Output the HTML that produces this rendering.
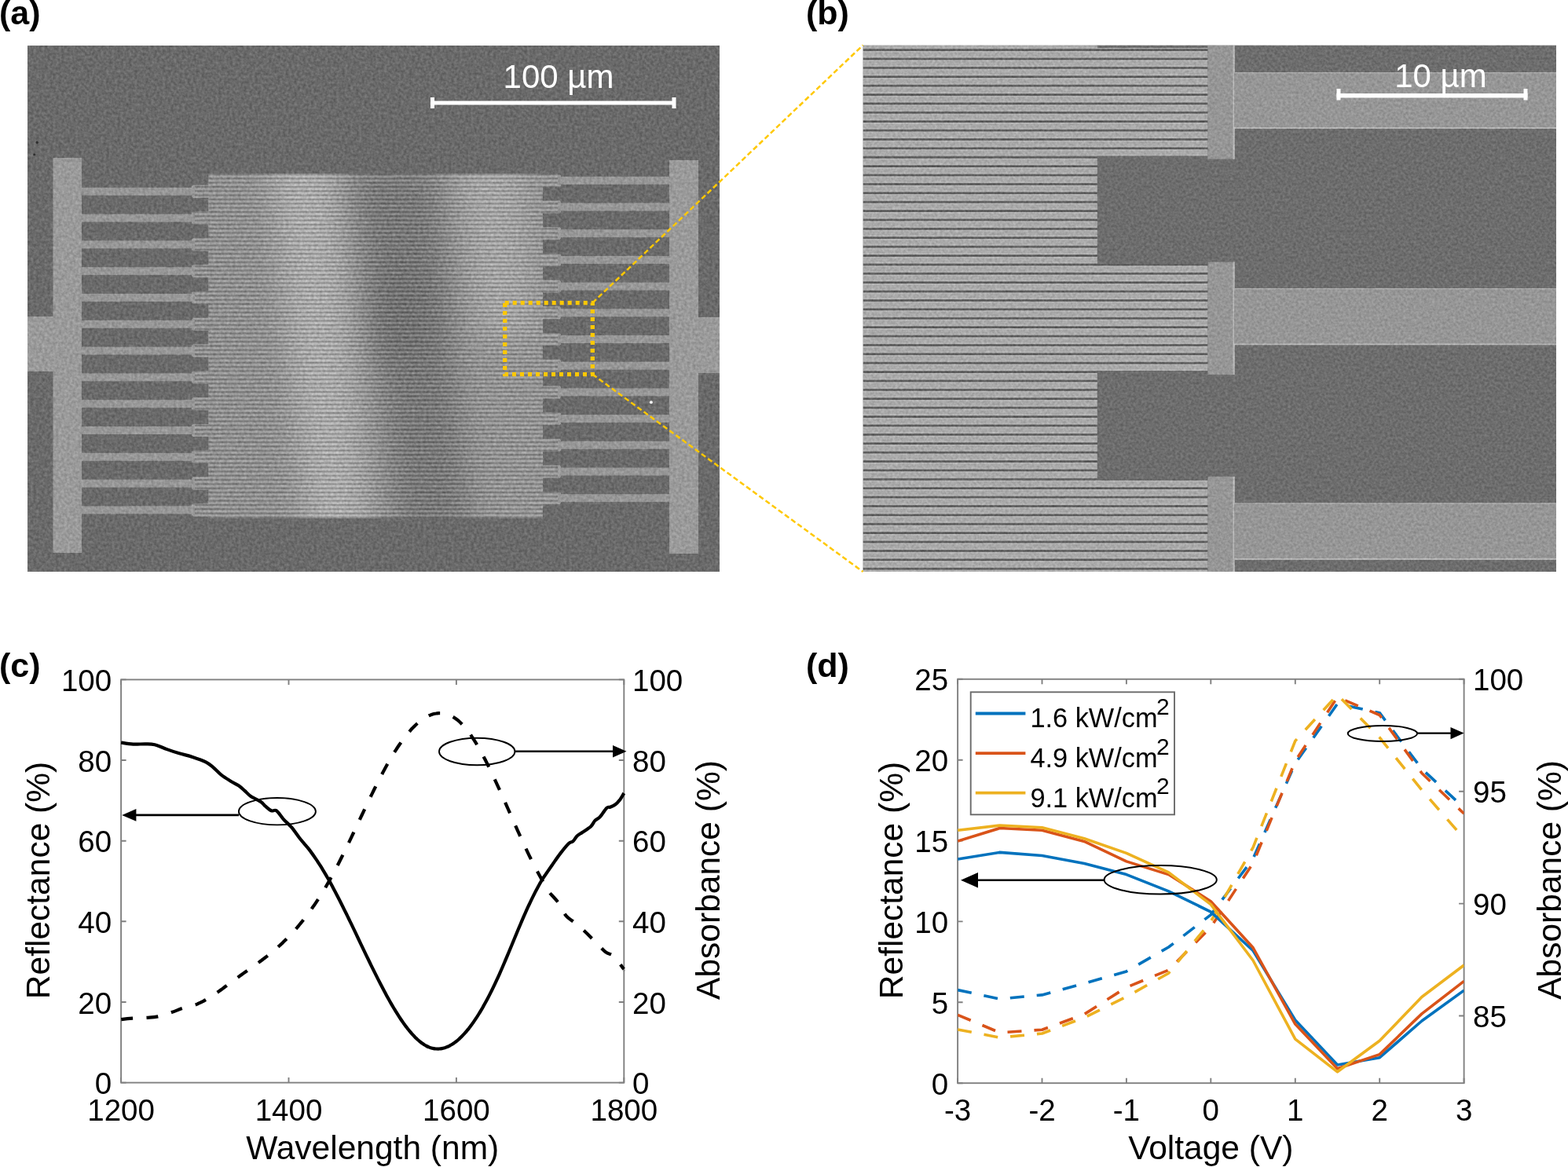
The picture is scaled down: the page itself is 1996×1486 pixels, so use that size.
<!DOCTYPE html>
<html><head><meta charset="utf-8"><title>Figure</title>
<style>html,body{margin:0;padding:0;background:#fff;}body{width:1996px;height:1486px;overflow:hidden;position:relative;}svg{position:absolute;left:0;top:0;display:block;}</style>
</head><body>
<svg width="1996" height="1486" viewBox="0 0 1996 1486">
<rect width="1996" height="1486" fill="#fff"/>
<defs>
<linearGradient id="gradA" gradientUnits="userSpaceOnUse" x1="230" y1="440" x2="730" y2="350"><stop offset="0" stop-color="rgb(150,150,150)"/><stop offset="0.15" stop-color="rgb(152,152,152)"/><stop offset="0.25" stop-color="rgb(160,160,160)"/><stop offset="0.35" stop-color="rgb(174,174,174)"/><stop offset="0.45" stop-color="rgb(160,160,160)"/><stop offset="0.58" stop-color="rgb(132,132,132)"/><stop offset="0.68" stop-color="rgb(146,146,146)"/><stop offset="0.79" stop-color="rgb(168,168,168)"/><stop offset="0.9" stop-color="rgb(158,158,158)"/><stop offset="1" stop-color="rgb(154,154,154)"/></linearGradient>
<pattern id="lineA" patternUnits="userSpaceOnUse" x="0" y="221" width="20" height="5.33"><rect x="0" y="0" width="20" height="2" fill="#000" opacity="0.19"/><rect x="0" y="2.8" width="20" height="1.5" fill="#fff" opacity="0.13"/></pattern>
<pattern id="lineB" patternUnits="userSpaceOnUse" x="0" y="62.05" width="40" height="11.39"><rect x="0" y="0" width="40" height="11.39" fill="#a9a9a9"/><rect x="0" y="0.3" width="40" height="3" fill="#585858"/><rect x="0" y="3.1" width="40" height="1.1" fill="#c2c2c2"/><rect x="0" y="10.1" width="40" height="1" fill="#bdbdbd"/></pattern>
<filter id="blurBig" x="-20%" y="-20%" width="140%" height="140%" color-interpolation-filters="sRGB"><feGaussianBlur stdDeviation="18"/></filter><filter id="blurBig2" x="-100%" y="-100%" width="300%" height="300%" color-interpolation-filters="sRGB"><feGaussianBlur stdDeviation="20"/></filter>
<filter id="noise" x="0" y="0" width="100%" height="100%" color-interpolation-filters="sRGB"><feTurbulence type="fractalNoise" baseFrequency="0.28" numOctaves="2" seed="3" result="n"/><feColorMatrix in="n" type="matrix" values="1 0 0 0 0  1 0 0 0 0  1 0 0 0 0  0 0 0 0 1" result="g"/><feComposite in="SourceGraphic" in2="g" operator="arithmetic" k1="0" k2="1" k3="0.22" k4="-0.11"/></filter>
<filter id="noiseB" x="0" y="0" width="100%" height="100%" color-interpolation-filters="sRGB"><feTurbulence type="fractalNoise" baseFrequency="0.3" numOctaves="2" seed="7" result="n"/><feColorMatrix in="n" type="matrix" values="1 0 0 0 0  1 0 0 0 0  1 0 0 0 0  0 0 0 0 1" result="g"/><feComposite in="SourceGraphic" in2="g" operator="arithmetic" k1="0" k2="1" k3="0.2" k4="-0.1"/></filter>
</defs>
<clipPath id="clipA"><rect x="35" y="58" width="881" height="670"/></clipPath>
<g clip-path="url(#clipA)"><g filter="url(#noise)">
<rect x="35" y="58" width="881" height="670" fill="#6a6a6a"/>
<clipPath id="gratA"><rect x="265.5" y="221" width="425.5" height="439"/><rect x="245.5" y="235.8" width="21" height="16"/><rect x="245.5" y="269.6" width="21" height="16"/><rect x="245.5" y="303.4" width="21" height="16"/><rect x="245.5" y="337.2" width="21" height="16"/><rect x="245.5" y="371" width="21" height="16"/><rect x="245.5" y="404.8" width="21" height="16"/><rect x="245.5" y="438.6" width="21" height="16"/><rect x="245.5" y="472.4" width="21" height="16"/><rect x="245.5" y="506.2" width="21" height="16"/><rect x="245.5" y="540" width="21" height="16"/><rect x="245.5" y="573.8" width="21" height="16"/><rect x="245.5" y="607.6" width="21" height="16"/><rect x="245.5" y="641.4" width="21" height="16"/><rect x="690" y="221.8" width="23" height="16"/><rect x="690" y="255.5" width="23" height="16"/><rect x="690" y="289.2" width="23" height="16"/><rect x="690" y="322.9" width="23" height="16"/><rect x="690" y="356.6" width="23" height="16"/><rect x="690" y="390.3" width="23" height="16"/><rect x="690" y="424" width="23" height="16"/><rect x="690" y="457.7" width="23" height="16"/><rect x="690" y="491.4" width="23" height="16"/><rect x="690" y="525.1" width="23" height="16"/><rect x="690" y="558.8" width="23" height="16"/><rect x="690" y="592.5" width="23" height="16"/><rect x="690" y="626.2" width="23" height="16"/></clipPath>
<g clip-path="url(#gratA)">
<rect x="240" y="215" width="480" height="450" fill="rgb(153,153,153)"/>
<g filter="url(#blurBig)">
<polygon points="238,200 330,200 395,680 238,680" fill="rgb(149,149,149)"/>
<polygon points="345,200 425,200 470,680 390,680" fill="rgb(178,178,178)"/>
<polygon points="445,215 555,215 575,430 600,680 505,680 480,430" fill="rgb(124,124,124)"/>
<polygon points="582,200 662,200 682,430 612,430" fill="rgb(172,172,172)"/>
</g>
<g filter="url(#blurBig2)">
<ellipse cx="512" cy="400" rx="30" ry="70" fill="rgb(116,116,116)"/>
</g>
<rect x="240" y="215" width="480" height="450" fill="url(#lineA)"/>
</g>
<rect x="67.5" y="201" width="36.5" height="503" fill="#9a9a9a"/>
<rect x="35" y="403" width="34" height="70" fill="#9a9a9a"/>
<rect x="103" y="238.8" width="143" height="10" fill="#979797"/>
<rect x="244" y="236.8" width="4" height="14" fill="#979797"/>
<rect x="103" y="272.6" width="143" height="10" fill="#979797"/>
<rect x="244" y="270.6" width="4" height="14" fill="#979797"/>
<rect x="103" y="306.4" width="143" height="10" fill="#979797"/>
<rect x="244" y="304.4" width="4" height="14" fill="#979797"/>
<rect x="103" y="340.2" width="143" height="10" fill="#979797"/>
<rect x="244" y="338.2" width="4" height="14" fill="#979797"/>
<rect x="103" y="374" width="143" height="10" fill="#979797"/>
<rect x="244" y="372" width="4" height="14" fill="#979797"/>
<rect x="103" y="407.8" width="143" height="10" fill="#979797"/>
<rect x="244" y="405.8" width="4" height="14" fill="#979797"/>
<rect x="103" y="441.6" width="143" height="10" fill="#979797"/>
<rect x="244" y="439.6" width="4" height="14" fill="#979797"/>
<rect x="103" y="475.4" width="143" height="10" fill="#979797"/>
<rect x="244" y="473.4" width="4" height="14" fill="#979797"/>
<rect x="103" y="509.2" width="143" height="10" fill="#979797"/>
<rect x="244" y="507.2" width="4" height="14" fill="#979797"/>
<rect x="103" y="543" width="143" height="10" fill="#979797"/>
<rect x="244" y="541" width="4" height="14" fill="#979797"/>
<rect x="103" y="576.8" width="143" height="10" fill="#979797"/>
<rect x="244" y="574.8" width="4" height="14" fill="#979797"/>
<rect x="103" y="610.6" width="143" height="10" fill="#979797"/>
<rect x="244" y="608.6" width="4" height="14" fill="#979797"/>
<rect x="103" y="644.4" width="143" height="10" fill="#979797"/>
<rect x="244" y="642.4" width="4" height="14" fill="#979797"/>
<rect x="852" y="204" width="37" height="501" fill="#9a9a9a"/>
<rect x="888" y="404" width="30" height="71" fill="#9a9a9a"/>
<rect x="713" y="224.8" width="140" height="10" fill="#979797"/>
<rect x="710" y="222.8" width="4" height="14" fill="#979797"/>
<rect x="713" y="258.5" width="140" height="10" fill="#979797"/>
<rect x="710" y="256.5" width="4" height="14" fill="#979797"/>
<rect x="713" y="292.2" width="140" height="10" fill="#979797"/>
<rect x="710" y="290.2" width="4" height="14" fill="#979797"/>
<rect x="713" y="325.9" width="140" height="10" fill="#979797"/>
<rect x="710" y="323.9" width="4" height="14" fill="#979797"/>
<rect x="713" y="359.6" width="140" height="10" fill="#979797"/>
<rect x="710" y="357.6" width="4" height="14" fill="#979797"/>
<rect x="713" y="393.3" width="140" height="10" fill="#979797"/>
<rect x="710" y="391.3" width="4" height="14" fill="#979797"/>
<rect x="713" y="427" width="140" height="10" fill="#979797"/>
<rect x="710" y="425" width="4" height="14" fill="#979797"/>
<rect x="713" y="460.7" width="140" height="10" fill="#979797"/>
<rect x="710" y="458.7" width="4" height="14" fill="#979797"/>
<rect x="713" y="494.4" width="140" height="10" fill="#979797"/>
<rect x="710" y="492.4" width="4" height="14" fill="#979797"/>
<rect x="713" y="528.1" width="140" height="10" fill="#979797"/>
<rect x="710" y="526.1" width="4" height="14" fill="#979797"/>
<rect x="713" y="561.8" width="140" height="10" fill="#979797"/>
<rect x="710" y="559.8" width="4" height="14" fill="#979797"/>
<rect x="713" y="595.5" width="140" height="10" fill="#979797"/>
<rect x="710" y="593.5" width="4" height="14" fill="#979797"/>
<rect x="713" y="629.2" width="140" height="10" fill="#979797"/>
<rect x="710" y="627.2" width="4" height="14" fill="#979797"/>
<circle cx="47.3" cy="181.6" r="1.8" fill="#333"/><circle cx="43.5" cy="197" r="1.5" fill="#383838"/>
<circle cx="828.9" cy="512.2" r="2" fill="#eee"/>
</g>
<rect x="548" y="128.5" width="312" height="5" fill="#fff"/>
<rect x="548" y="124" width="5" height="14" fill="#fff"/>
<rect x="855.5" y="124" width="5" height="14" fill="#fff"/>
<text x="711" y="112" font-size="42" fill="#fff" text-anchor="middle" font-family="'Liberation Sans', Arial, Helvetica, sans-serif">100 µm</text>
</g>
<clipPath id="clipB"><rect x="1098.5" y="57.5" width="882.5" height="670.5"/></clipPath>
<g clip-path="url(#clipB)"><g filter="url(#noiseB)">
<rect x="1098.5" y="57.5" width="882.5" height="670.5" fill="#6d6d6d"/>
<rect x="1098.5" y="61.2" width="439" height="137.3" fill="url(#lineB)"/>
<rect x="1098.5" y="336.2" width="439" height="135.8" fill="url(#lineB)"/>
<rect x="1098.5" y="610.5" width="439" height="129.5" fill="url(#lineB)"/>
<rect x="1098.5" y="50" width="298.3" height="11.2" fill="url(#lineB)"/>
<rect x="1098.5" y="198.5" width="298.3" height="137.7" fill="url(#lineB)"/>
<rect x="1098.5" y="472" width="298.3" height="138.5" fill="url(#lineB)"/>
<rect x="1537.5" y="50" width="34.2" height="152.6" fill="#969696"/>
<rect x="1569.5" y="50" width="2.2" height="152.6" fill="#b8b8b8"/>
<rect x="1537.5" y="333.6" width="34.2" height="143.4" fill="#969696"/>
<rect x="1569.5" y="333.6" width="2.2" height="143.4" fill="#b8b8b8"/>
<rect x="1537.5" y="606.8" width="34.2" height="133.2" fill="#969696"/>
<rect x="1569.5" y="606.8" width="2.2" height="133.2" fill="#b8b8b8"/>
<rect x="1571" y="92" width="420" height="71.5" fill="#969696"/>
<rect x="1571" y="162" width="420" height="1.8" fill="#b8b8b8"/>
<rect x="1571" y="92" width="420" height="1.4" fill="#ababab"/>
<rect x="1571" y="367" width="420" height="72" fill="#969696"/>
<rect x="1571" y="437.5" width="420" height="1.8" fill="#b8b8b8"/>
<rect x="1571" y="367" width="420" height="1.4" fill="#ababab"/>
<rect x="1571" y="640.5" width="420" height="72" fill="#969696"/>
<rect x="1571" y="711" width="420" height="1.8" fill="#b8b8b8"/>
<rect x="1571" y="640.5" width="420" height="1.4" fill="#ababab"/>
</g>
<rect x="1701.5" y="119" width="243" height="5.5" fill="#fff"/>
<rect x="1701.5" y="113" width="5" height="14.5" fill="#fff"/>
<rect x="1939.5" y="113" width="5" height="14.5" fill="#fff"/>
<text x="1834" y="111" font-size="42" fill="#fff" text-anchor="middle" font-family="'Liberation Sans', Arial, Helvetica, sans-serif">10 µm</text>
</g>
<rect x="154.1" y="865.4" width="640.2" height="513.2" fill="none" stroke="#808080" stroke-width="1.9"/>
<path d="M154.1,1378.6v-6.5M154.1,865.4v6.5M367.5,1378.6v-6.5M367.5,865.4v6.5M580.9,1378.6v-6.5M580.9,865.4v6.5M794.3,1378.6v-6.5M794.3,865.4v6.5M154.1,1378.6h6.5M154.1,1276h6.5M154.1,1173.3h6.5M154.1,1070.7h6.5M154.1,968h6.5M154.1,865.4h6.5M794.3,1378.6h-6.5M794.3,1276h-6.5M794.3,1173.3h-6.5M794.3,1070.7h-6.5M794.3,968h-6.5M794.3,865.4h-6.5" stroke="#808080" stroke-width="1.9" fill="none"/>
<path d="M154.1,945.5C156.7,945.9 164.3,947.3 169.5,947.6C174.7,947.9 180.6,947.2 185.2,947.3C189.8,947.4 192.3,947.1 196.9,948.2C201.5,949.3 207.3,952.2 212.5,954.1C217.7,956.0 222.8,957.7 228.2,959.3C233.6,960.9 239.5,962.0 245.1,963.9C250.7,965.8 257.7,968.2 262.0,970.4C266.3,972.6 267.8,974.2 271.1,976.9C274.4,979.6 277.9,983.8 281.6,986.7C285.3,989.6 289.6,992.2 293.3,994.5C297.0,996.8 300.7,998.2 303.7,1000.3C306.7,1002.4 308.9,1004.6 311.5,1006.9C314.1,1009.2 315.8,1011.6 319.3,1014.0C322.8,1016.4 329.3,1019.1 332.4,1021.2C335.4,1023.3 335.4,1024.6 337.6,1026.4C339.8,1028.2 343.0,1031.3 345.4,1032.3C347.8,1033.3 349.3,1030.5 351.9,1032.3C354.5,1034.1 357.8,1039.8 361.0,1043.3C364.2,1046.8 367.7,1049.4 371.1,1053.4C374.5,1057.4 377.8,1062.6 381.4,1067.2C385.0,1071.8 389.5,1076.5 392.9,1080.9C396.3,1085.3 400.0,1090.7 402.0,1093.6C404.0,1096.4 404.0,1096.5 405.0,1098.1C406.0,1099.6 407.0,1101.1 408.0,1102.7C409.0,1104.3 410.0,1105.9 411.0,1107.6C412.0,1109.2 413.0,1110.9 414.0,1112.6C415.0,1114.3 416.0,1116.0 417.0,1117.8C418.0,1119.5 419.0,1121.3 420.0,1123.1C421.0,1124.9 422.0,1126.8 423.0,1128.6C424.0,1130.5 425.0,1132.3 426.0,1134.2C427.0,1136.1 428.0,1138.0 429.0,1140.0C430.0,1141.9 431.0,1143.8 432.0,1145.8C433.0,1147.8 434.0,1149.7 435.0,1151.7C436.0,1153.7 437.0,1155.7 438.0,1157.8C439.0,1159.8 440.0,1161.8 441.0,1163.8C442.0,1165.9 443.0,1167.9 444.0,1170.0C445.0,1172.1 446.0,1174.1 447.0,1176.2C448.0,1178.3 449.0,1180.4 450.0,1182.4C451.0,1184.5 452.0,1186.6 453.0,1188.7C454.0,1190.8 455.0,1192.9 456.0,1195.0C457.0,1197.1 458.0,1199.2 459.0,1201.3C460.0,1203.4 461.0,1205.5 462.0,1207.6C463.0,1209.6 464.0,1211.7 465.0,1213.8C466.0,1215.9 467.0,1218.0 468.0,1220.0C469.0,1222.1 470.0,1224.2 471.0,1226.2C472.0,1228.3 473.0,1230.3 474.0,1232.4C475.0,1234.4 476.0,1236.4 477.0,1238.4C478.0,1240.4 479.0,1242.4 480.0,1244.4C481.0,1246.4 482.0,1248.4 483.0,1250.3C484.0,1252.3 485.0,1254.2 486.0,1256.1C487.0,1258.0 488.0,1259.9 489.0,1261.8C490.0,1263.7 491.0,1265.5 492.0,1267.4C493.0,1269.2 494.0,1271.0 495.0,1272.8C496.0,1274.6 497.0,1276.3 498.0,1278.1C499.0,1279.8 500.0,1281.5 501.0,1283.2C502.0,1284.9 503.0,1286.5 504.0,1288.2C505.0,1289.8 506.0,1291.4 507.0,1292.9C508.0,1294.5 509.0,1296.0 510.0,1297.5C511.0,1299.0 512.0,1300.5 513.0,1301.9C514.0,1303.3 515.0,1304.7 516.0,1306.1C517.0,1307.4 518.0,1308.7 519.0,1310.0C520.0,1311.3 521.0,1312.5 522.0,1313.7C523.0,1314.9 524.0,1316.1 525.0,1317.2C526.0,1318.3 527.0,1319.3 528.0,1320.3C529.0,1321.4 530.0,1322.3 531.0,1323.3C532.0,1324.2 533.0,1325.1 534.0,1325.9C535.0,1326.7 536.0,1327.5 537.0,1328.2C538.0,1329.0 539.0,1329.6 540.0,1330.3C541.0,1330.9 542.0,1331.5 543.0,1332.0C544.0,1332.5 545.0,1333.0 546.0,1333.4C547.0,1333.8 548.0,1334.1 549.0,1334.4C550.0,1334.7 551.0,1334.9 552.0,1335.1C553.0,1335.3 554.0,1335.4 555.0,1335.5C556.0,1335.6 557.0,1335.6 558.0,1335.6C559.0,1335.5 560.0,1335.5 561.0,1335.3C562.0,1335.2 563.0,1335.0 564.0,1334.7C565.0,1334.5 566.0,1334.2 567.0,1333.9C568.0,1333.5 569.0,1333.1 570.0,1332.7C571.0,1332.3 572.0,1331.8 573.0,1331.2C574.0,1330.7 575.0,1330.1 576.0,1329.5C577.0,1328.8 578.0,1328.1 579.0,1327.4C580.0,1326.7 581.0,1325.9 582.0,1325.1C583.0,1324.2 584.0,1323.4 585.0,1322.4C586.0,1321.5 587.0,1320.6 588.0,1319.5C589.0,1318.5 590.0,1317.5 591.0,1316.4C592.0,1315.3 593.0,1314.1 594.0,1313.0C595.0,1311.8 596.0,1310.5 597.0,1309.3C598.0,1308.0 599.0,1306.7 600.0,1305.3C601.0,1304.0 602.0,1302.6 603.0,1301.1C604.0,1299.7 605.0,1298.2 606.0,1296.7C607.0,1295.2 608.0,1293.6 609.0,1292.0C610.0,1290.4 611.0,1288.8 612.0,1287.1C613.0,1285.4 614.0,1283.7 615.0,1281.9C616.0,1280.2 617.0,1278.4 618.0,1276.6C619.0,1274.7 620.0,1272.9 621.0,1271.0C622.0,1269.1 623.0,1267.1 624.0,1265.1C625.0,1263.2 626.0,1261.2 627.0,1259.1C628.0,1257.1 629.0,1255.0 630.0,1252.9C631.0,1250.8 632.0,1248.6 633.0,1246.4C634.0,1244.3 635.0,1242.0 636.0,1239.8C637.0,1237.6 638.0,1235.3 639.0,1233.0C640.0,1230.7 641.0,1228.3 642.0,1226.0C643.0,1223.7 644.0,1221.3 645.0,1218.9C646.0,1216.5 647.0,1214.1 648.0,1211.7C649.0,1209.3 650.0,1206.9 651.0,1204.5C652.0,1202.1 653.0,1199.7 654.0,1197.3C655.0,1194.8 656.0,1192.4 657.0,1190.0C658.0,1187.6 659.0,1185.2 660.0,1182.8C661.0,1180.4 662.0,1178.1 663.0,1175.7C664.0,1173.4 665.0,1171.0 666.0,1168.7C667.0,1166.4 668.0,1164.1 669.0,1161.9C670.0,1159.6 671.0,1157.4 672.0,1155.2C673.0,1153.1 674.0,1150.9 675.0,1148.8C676.0,1146.7 677.0,1144.6 678.0,1142.6C679.0,1140.6 680.0,1138.6 681.0,1136.6C682.0,1134.7 683.0,1132.8 684.0,1130.9C685.0,1129.0 686.0,1127.2 687.0,1125.4C688.0,1123.7 689.4,1121.3 690.0,1120.2C690.6,1119.2 688.5,1122.2 690.6,1119.2C692.7,1116.2 698.7,1107.4 702.5,1102.0C706.3,1096.6 709.6,1091.6 713.2,1086.9C716.8,1082.2 721.3,1076.6 724.0,1074.0C726.7,1071.4 727.6,1072.9 729.4,1071.3C731.2,1069.7 732.8,1066.2 734.8,1064.3C736.8,1062.4 738.3,1062.0 741.2,1060.0C744.1,1058.0 749.3,1055.0 752.0,1052.5C754.7,1050.0 755.4,1047.0 757.4,1044.9C759.4,1042.8 761.3,1042.8 763.8,1040.1C766.3,1037.4 770.2,1030.9 772.4,1028.8C774.5,1026.7 774.9,1028.4 776.7,1027.7C778.5,1027.0 781.2,1025.9 783.2,1024.5C785.2,1023.1 786.8,1021.5 788.6,1019.1C790.5,1016.7 793.3,1011.5 794.3,1010.0" fill="none" stroke="#000" stroke-width="4.2" stroke-linejoin="round"/>
<path d="M154.3,1298.1C156.7,1297.8 163.4,1297.0 168.8,1296.6C174.2,1296.2 181.4,1296.3 186.8,1295.9C192.2,1295.5 195.8,1295.5 201.1,1294.4C206.4,1293.3 213.1,1290.9 218.4,1289.1C223.7,1287.3 227.6,1285.4 232.7,1283.8C237.8,1282.2 245.9,1280.3 249.2,1279.3C252.4,1278.4 251.2,1278.5 252.2,1278.0C253.2,1277.6 254.2,1277.1 255.2,1276.6C256.2,1276.1 257.2,1275.6 258.2,1275.1C259.2,1274.6 260.2,1274.0 261.2,1273.5C262.2,1272.9 263.2,1272.4 264.2,1271.8C265.2,1271.2 266.2,1270.6 267.2,1270.0C268.2,1269.3 269.2,1268.7 270.2,1268.0C271.2,1267.4 272.2,1266.7 273.2,1266.1C274.2,1265.4 275.2,1264.7 276.2,1264.0C277.2,1263.3 278.2,1262.6 279.2,1261.9C280.2,1261.1 281.2,1260.4 282.2,1259.7C283.2,1259.0 284.2,1258.2 285.2,1257.5C286.2,1256.7 287.2,1256.0 288.2,1255.3C289.2,1254.5 290.2,1253.8 291.2,1253.0C292.2,1252.3 293.2,1251.5 294.2,1250.8C295.2,1250.0 296.2,1249.3 297.2,1248.6C298.2,1247.8 299.2,1247.1 300.2,1246.4C301.2,1245.6 302.2,1244.9 303.2,1244.2C304.2,1243.5 305.2,1242.7 306.2,1242.0C307.2,1241.3 308.2,1240.6 309.2,1239.9C310.2,1239.2 311.2,1238.5 312.2,1237.8C313.2,1237.1 314.2,1236.4 315.2,1235.7C316.2,1234.9 317.2,1234.2 318.2,1233.5C319.2,1232.8 320.2,1232.1 321.2,1231.4C322.2,1230.7 323.2,1230.0 324.2,1229.3C325.2,1228.5 326.2,1227.8 327.2,1227.1C328.2,1226.4 329.2,1225.6 330.2,1224.9C331.2,1224.2 332.2,1223.4 333.2,1222.7C334.2,1221.9 335.2,1221.2 336.2,1220.4C337.2,1219.6 338.2,1218.9 339.2,1218.1C340.2,1217.3 341.2,1216.5 342.2,1215.7C343.2,1214.9 344.2,1214.1 345.2,1213.3C346.2,1212.5 347.2,1211.6 348.2,1210.8C349.2,1210.0 350.2,1209.1 351.2,1208.2C352.2,1207.4 353.2,1206.5 354.2,1205.6C355.2,1204.7 356.2,1203.8 357.2,1202.9C358.2,1201.9 359.2,1201.0 360.2,1200.1C361.2,1199.1 362.2,1198.1 363.2,1197.1C364.2,1196.2 365.2,1195.2 366.2,1194.1C367.2,1193.1 368.2,1192.1 369.2,1191.0C370.2,1190.0 371.2,1188.9 372.2,1187.8C373.2,1186.7 374.2,1185.6 375.2,1184.5C376.2,1183.4 377.2,1182.2 378.2,1181.1C379.2,1179.9 380.2,1178.7 381.2,1177.5C382.2,1176.3 383.2,1175.1 384.2,1173.9C385.2,1172.7 386.2,1171.4 387.2,1170.1C388.2,1168.8 389.2,1167.5 390.2,1166.2C391.2,1164.9 392.2,1163.5 393.2,1162.2C394.2,1160.8 395.2,1159.4 396.2,1158.0C397.2,1156.6 398.2,1155.2 399.2,1153.7C400.2,1152.3 401.2,1150.8 402.2,1149.3C403.2,1147.8 404.2,1146.3 405.2,1144.7C406.2,1143.2 407.2,1141.6 408.2,1140.0C409.2,1138.4 410.2,1136.8 411.2,1135.2C412.2,1133.5 413.2,1131.9 414.2,1130.2C415.2,1128.5 416.2,1126.8 417.2,1125.0C418.2,1123.3 419.2,1121.5 420.2,1119.7C421.2,1117.9 422.2,1116.1 423.2,1114.2C424.2,1112.4 425.2,1110.5 426.2,1108.6C427.2,1106.7 428.2,1104.8 429.2,1102.9C430.2,1100.9 431.2,1099.0 432.2,1097.0C433.2,1095.0 434.2,1093.0 435.2,1091.0C436.2,1089.0 437.2,1087.0 438.2,1085.0C439.2,1082.9 440.2,1080.9 441.2,1078.8C442.2,1076.7 443.2,1074.7 444.2,1072.6C445.2,1070.5 446.2,1068.4 447.2,1066.3C448.2,1064.2 449.2,1062.1 450.2,1060.0C451.2,1057.9 452.2,1055.8 453.2,1053.6C454.2,1051.5 455.2,1049.4 456.2,1047.3C457.2,1045.2 458.2,1043.0 459.2,1040.9C460.2,1038.8 461.2,1036.7 462.2,1034.6C463.2,1032.5 464.2,1030.4 465.2,1028.3C466.2,1026.2 467.2,1024.1 468.2,1022.0C469.2,1019.9 470.2,1017.8 471.2,1015.8C472.2,1013.7 473.2,1011.6 474.2,1009.6C475.2,1007.6 476.2,1005.5 477.2,1003.5C478.2,1001.5 479.2,999.5 480.2,997.5C481.2,995.5 482.2,993.6 483.2,991.6C484.2,989.7 485.2,987.8 486.2,985.9C487.2,984.0 488.2,982.1 489.2,980.3C490.2,978.4 491.2,976.6 492.2,974.8C493.2,973.0 494.2,971.2 495.2,969.5C496.2,967.7 497.2,966.0 498.2,964.3C499.2,962.6 500.2,961.0 501.2,959.4C502.2,957.7 503.2,956.1 504.2,954.6C505.2,953.0 506.2,951.5 507.2,950.0C508.2,948.5 509.2,947.1 510.2,945.7C511.2,944.2 512.2,942.9 513.2,941.5C514.2,940.2 515.2,938.8 516.2,937.6C517.2,936.3 518.2,935.0 519.2,933.8C520.2,932.6 521.2,931.5 522.2,930.3C523.2,929.2 524.2,928.1 525.2,927.1C526.2,926.0 527.2,925.0 528.2,924.1C529.2,923.1 530.2,922.2 531.2,921.3C532.2,920.4 533.2,919.5 534.2,918.7C535.2,917.9 536.2,917.2 537.2,916.5C538.2,915.8 539.2,915.1 540.2,914.4C541.2,913.8 542.2,913.2 543.2,912.7C544.2,912.2 545.2,911.7 546.2,911.2C547.2,910.8 548.2,910.4 549.2,910.0C550.2,909.7 551.2,909.4 552.2,909.1C553.2,908.8 554.2,908.6 555.2,908.5C556.2,908.3 557.2,908.2 558.2,908.1C559.2,908.1 560.2,908.1 561.2,908.1C562.2,908.1 563.2,908.2 564.2,908.4C565.2,908.5 566.2,908.7 567.2,908.9C568.2,909.2 569.2,909.5 570.2,909.8C571.2,910.2 572.2,910.6 573.2,911.1C574.2,911.5 575.2,912.0 576.2,912.6C577.2,913.2 578.2,913.8 579.2,914.5C580.2,915.2 581.2,915.9 582.2,916.7C583.2,917.5 584.2,918.4 585.2,919.3C586.2,920.2 587.2,921.2 588.2,922.2C589.2,923.2 590.2,924.3 591.2,925.5C592.2,926.6 593.2,927.8 594.2,929.1C595.2,930.4 596.2,931.7 597.2,933.0C598.2,934.4 599.2,935.8 600.2,937.3C601.2,938.8 602.2,940.3 603.2,941.9C604.2,943.5 605.2,945.1 606.2,946.7C607.2,948.4 608.2,950.1 609.2,951.8C610.2,953.6 611.2,955.4 612.2,957.2C613.2,959.0 614.2,960.9 615.2,962.8C616.2,964.6 617.2,966.6 618.2,968.5C619.2,970.5 620.2,972.5 621.2,974.5C622.2,976.5 623.2,978.5 624.2,980.6C625.2,982.7 626.2,984.8 627.2,986.9C628.2,989.0 629.2,991.1 630.2,993.3C631.2,995.4 632.2,997.6 633.2,999.8C634.2,1002.0 635.2,1004.2 636.2,1006.4C637.2,1008.6 638.2,1010.9 639.2,1013.1C640.2,1015.3 641.2,1017.6 642.2,1019.8C643.2,1022.1 644.2,1024.3 645.2,1026.6C646.2,1028.9 647.2,1031.1 648.2,1033.4C649.2,1035.7 650.2,1037.9 651.2,1040.2C652.2,1042.4 653.2,1044.7 654.2,1047.0C655.2,1049.2 656.2,1051.5 657.2,1053.7C658.2,1055.9 659.2,1058.2 660.2,1060.4C661.2,1062.6 662.2,1064.8 663.2,1067.0C664.2,1069.2 665.2,1071.4 666.2,1073.6C667.2,1075.7 668.2,1077.9 669.2,1080.0C670.2,1082.1 671.2,1084.2 672.2,1086.3C673.2,1088.4 674.2,1090.5 675.2,1092.5C676.2,1094.5 677.2,1096.5 678.2,1098.5C679.2,1100.5 680.2,1102.4 681.2,1104.4C682.2,1106.3 683.2,1108.2 684.2,1110.0C685.2,1111.9 686.2,1113.7 687.2,1115.5C688.2,1117.3 689.2,1119.1 690.2,1120.9C691.2,1122.6 692.2,1124.3 693.2,1126.0C694.2,1127.7 695.2,1129.4 696.2,1131.0C697.2,1132.6 698.5,1134.7 699.2,1135.8C699.9,1136.9 698.3,1135.1 700.3,1137.5C702.3,1139.9 707.7,1145.2 711.1,1150.0C714.5,1154.8 717.3,1162.1 720.6,1166.1C723.9,1170.1 726.7,1170.8 730.7,1174.1C734.7,1177.4 740.7,1182.5 744.7,1186.2C748.7,1189.9 750.4,1191.9 754.7,1196.2C759.0,1200.5 766.4,1208.7 770.7,1212.2C775.1,1215.7 777.1,1213.9 780.8,1217.2C784.5,1220.5 790.5,1229.5 792.8,1232.3C795.0,1235.1 794.0,1233.7 794.3,1234.0" fill="none" stroke="#000" stroke-width="4.2" stroke-dasharray="14.9 17.37"/>
<ellipse cx="352.9" cy="1033.2" rx="49" ry="17.2" fill="none" stroke="#000" stroke-width="1.9"/>
<path d="M304,1037.9H170" stroke="#000" stroke-width="2.6"/>
<path d="M155.2,1037.9L173.4,1030.1V1045.7Z" fill="#000"/>
<ellipse cx="607.2" cy="957" rx="48.2" ry="17.3" fill="none" stroke="#000" stroke-width="1.9"/>
<path d="M655.4,956.7H783" stroke="#000" stroke-width="2.6"/>
<path d="M797.5,956.7L780,948.9V964.5Z" fill="#000"/>
<text x="142.2" y="1393.1" font-size="38.5" font-weight="normal" text-anchor="end" fill="#000" font-family="'Liberation Sans', Arial, Helvetica, sans-serif">0</text>
<text x="805" y="1393.1" font-size="38.5" font-weight="normal" text-anchor="start" fill="#000" font-family="'Liberation Sans', Arial, Helvetica, sans-serif">0</text>
<text x="142.2" y="1290.5" font-size="38.5" font-weight="normal" text-anchor="end" fill="#000" font-family="'Liberation Sans', Arial, Helvetica, sans-serif">20</text>
<text x="805" y="1290.5" font-size="38.5" font-weight="normal" text-anchor="start" fill="#000" font-family="'Liberation Sans', Arial, Helvetica, sans-serif">20</text>
<text x="142.2" y="1187.8" font-size="38.5" font-weight="normal" text-anchor="end" fill="#000" font-family="'Liberation Sans', Arial, Helvetica, sans-serif">40</text>
<text x="805" y="1187.8" font-size="38.5" font-weight="normal" text-anchor="start" fill="#000" font-family="'Liberation Sans', Arial, Helvetica, sans-serif">40</text>
<text x="142.2" y="1085.2" font-size="38.5" font-weight="normal" text-anchor="end" fill="#000" font-family="'Liberation Sans', Arial, Helvetica, sans-serif">60</text>
<text x="805" y="1085.2" font-size="38.5" font-weight="normal" text-anchor="start" fill="#000" font-family="'Liberation Sans', Arial, Helvetica, sans-serif">60</text>
<text x="142.2" y="982.5" font-size="38.5" font-weight="normal" text-anchor="end" fill="#000" font-family="'Liberation Sans', Arial, Helvetica, sans-serif">80</text>
<text x="805" y="982.5" font-size="38.5" font-weight="normal" text-anchor="start" fill="#000" font-family="'Liberation Sans', Arial, Helvetica, sans-serif">80</text>
<text x="142.2" y="879.9" font-size="38.5" font-weight="normal" text-anchor="end" fill="#000" font-family="'Liberation Sans', Arial, Helvetica, sans-serif">100</text>
<text x="805" y="879.9" font-size="38.5" font-weight="normal" text-anchor="start" fill="#000" font-family="'Liberation Sans', Arial, Helvetica, sans-serif">100</text>
<text x="154.1" y="1427" font-size="38.5" font-weight="normal" text-anchor="middle" fill="#000" font-family="'Liberation Sans', Arial, Helvetica, sans-serif">1200</text>
<text x="367.5" y="1427" font-size="38.5" font-weight="normal" text-anchor="middle" fill="#000" font-family="'Liberation Sans', Arial, Helvetica, sans-serif">1400</text>
<text x="580.9" y="1427" font-size="38.5" font-weight="normal" text-anchor="middle" fill="#000" font-family="'Liberation Sans', Arial, Helvetica, sans-serif">1600</text>
<text x="794.3" y="1427" font-size="38.5" font-weight="normal" text-anchor="middle" fill="#000" font-family="'Liberation Sans', Arial, Helvetica, sans-serif">1800</text>
<text x="474.2" y="1476.3" font-size="42.5" font-weight="normal" text-anchor="middle" fill="#000" font-family="'Liberation Sans', Arial, Helvetica, sans-serif">Wavelength (nm)</text>
<text x="62.7" y="1121" font-size="42.5" font-weight="normal" text-anchor="middle" fill="#000" font-family="'Liberation Sans', Arial, Helvetica, sans-serif" transform="rotate(-90 62.7 1121)">Reflectance (%)</text>
<text x="915.8" y="1120.5" font-size="42.5" font-weight="normal" text-anchor="middle" fill="#000" font-family="'Liberation Sans', Arial, Helvetica, sans-serif" transform="rotate(-90 915.8 1120.5)">Absorbance (%)</text>
<rect x="1219.1" y="864.8" width="644.5" height="514.4" fill="none" stroke="#808080" stroke-width="1.9"/>
<path d="M1219.1,1379.2v-6.5M1219.1,864.8v6.5M1326.5,1379.2v-6.5M1326.5,864.8v6.5M1433.9,1379.2v-6.5M1433.9,864.8v6.5M1541.3,1379.2v-6.5M1541.3,864.8v6.5M1648.8,1379.2v-6.5M1648.8,864.8v6.5M1756.2,1379.2v-6.5M1756.2,864.8v6.5M1863.6,1379.2v-6.5M1863.6,864.8v6.5M1219.1,1379.2h6.5M1219.1,1276.3h6.5M1219.1,1173.4h6.5M1219.1,1070.6h6.5M1219.1,967.7h6.5M1219.1,864.8h6.5M1863.6,1293.5h-6.5M1863.6,1150.6h-6.5M1863.6,1007.7h-6.5M1863.6,864.8h-6.5" stroke="#808080" stroke-width="1.9" fill="none"/>
<clipPath id="clipD"><rect x="1219.1" y="864.8" width="644.5" height="514.4"/></clipPath>
<g clip-path="url(#clipD)" fill="none" stroke-width="3.6" stroke-linejoin="round">
<path d="M1219.1,1260.6 L1272.8,1272.0 L1326.5,1266.9 L1380.2,1252.3 L1433.9,1236.9 L1487.6,1206.0 L1541.3,1164.9 L1595.1,1093.4 L1648.8,972.0 L1702.5,896.2 L1756.2,907.7 L1809.9,979.1 L1863.6,1028.6" stroke="#0072BD" stroke-dasharray="18 16"/>
<path d="M1219.1,1292.3 L1272.8,1314.9 L1326.5,1311.2 L1380.2,1291.5 L1433.9,1257.2 L1487.6,1235.2 L1541.3,1180.6 L1595.1,1099.1 L1648.8,969.1 L1702.5,887.7 L1756.2,910.5 L1809.9,984.5 L1863.6,1036.0" stroke="#D95319" stroke-dasharray="18 16"/>
<path d="M1219.1,1310.9 L1272.8,1321.2 L1326.5,1316.0 L1380.2,1295.8 L1433.9,1269.2 L1487.6,1239.2 L1541.3,1173.4 L1595.1,1079.1 L1648.8,943.4 L1702.5,884.8 L1756.2,939.1 L1809.9,1006.0 L1863.6,1067.7" stroke="#EDB120" stroke-dasharray="18 16"/>
<path d="M1219.1,1094.0 L1272.8,1085.4 L1326.5,1089.5 L1380.2,1099.4 L1433.9,1113.6 L1487.6,1134.8 L1541.3,1161.1 L1595.1,1210.5 L1648.8,1299.0 L1702.5,1355.9 L1756.2,1346.7 L1809.9,1300.0 L1863.6,1261.1" stroke="#0072BD"/>
<path d="M1219.1,1071.0 L1272.8,1054.5 L1326.5,1057.2 L1380.2,1071.4 L1433.9,1096.9 L1487.6,1113.6 L1541.3,1147.7 L1595.1,1206.8 L1648.8,1304.1 L1702.5,1360.7 L1756.2,1342.6 L1809.9,1290.9 L1863.6,1249.4" stroke="#D95319"/>
<path d="M1219.1,1057.2 L1272.8,1051.0 L1326.5,1053.7 L1380.2,1067.7 L1433.9,1086.4 L1487.6,1110.9 L1541.3,1151.6 L1595.1,1223.0 L1648.8,1323.2 L1702.5,1364.8 L1756.2,1325.3 L1809.9,1269.5 L1863.6,1229.0" stroke="#EDB120"/>
</g>
<ellipse cx="1477.2" cy="1120.3" rx="71.6" ry="18.2" fill="none" stroke="#000" stroke-width="2"/>
<path d="M1405.6,1120.7H1240" stroke="#000" stroke-width="2.6"/>
<path d="M1223,1120.7L1245,1111V1130.4Z" fill="#000"/>
<ellipse cx="1759.9" cy="934" rx="44.2" ry="10" fill="none" stroke="#000" stroke-width="2"/>
<path d="M1804,933.6H1850" stroke="#000" stroke-width="2.4"/>
<path d="M1863.6,933.6L1846.5,925.9V941.3Z" fill="#000"/>
<rect x="1235.7" y="881.3" width="259.3" height="156" fill="#fff" stroke="#6a6a6a" stroke-width="1.9"/>
<path d="M1241.8,908.5H1305.4" stroke="#0072BD" stroke-width="3.8"/>
<text x="1311.5" y="926.3" font-size="34.3" fill="#000" font-family="'Liberation Sans', Arial, Helvetica, sans-serif">1.6 kW/cm<tspan font-size="30" dx="-1.5" dy="-16.4">2</tspan></text>
<path d="M1241.8,959.1H1305.4" stroke="#D95319" stroke-width="3.8"/>
<text x="1311.5" y="976.9" font-size="34.3" fill="#000" font-family="'Liberation Sans', Arial, Helvetica, sans-serif">4.9 kW/cm<tspan font-size="30" dx="-1.5" dy="-16.4">2</tspan></text>
<path d="M1241.8,1009.7H1305.4" stroke="#EDB120" stroke-width="3.8"/>
<text x="1311.5" y="1027.5" font-size="34.3" fill="#000" font-family="'Liberation Sans', Arial, Helvetica, sans-serif">9.1 kW/cm<tspan font-size="30" dx="-1.5" dy="-16.4">2</tspan></text>
<text x="1219.1" y="1427" font-size="38.5" font-weight="normal" text-anchor="middle" fill="#000" font-family="'Liberation Sans', Arial, Helvetica, sans-serif">-3</text>
<text x="1326.5" y="1427" font-size="38.5" font-weight="normal" text-anchor="middle" fill="#000" font-family="'Liberation Sans', Arial, Helvetica, sans-serif">-2</text>
<text x="1433.9" y="1427" font-size="38.5" font-weight="normal" text-anchor="middle" fill="#000" font-family="'Liberation Sans', Arial, Helvetica, sans-serif">-1</text>
<text x="1541.3" y="1427" font-size="38.5" font-weight="normal" text-anchor="middle" fill="#000" font-family="'Liberation Sans', Arial, Helvetica, sans-serif">0</text>
<text x="1648.8" y="1427" font-size="38.5" font-weight="normal" text-anchor="middle" fill="#000" font-family="'Liberation Sans', Arial, Helvetica, sans-serif">1</text>
<text x="1756.2" y="1427" font-size="38.5" font-weight="normal" text-anchor="middle" fill="#000" font-family="'Liberation Sans', Arial, Helvetica, sans-serif">2</text>
<text x="1863.6" y="1427" font-size="38.5" font-weight="normal" text-anchor="middle" fill="#000" font-family="'Liberation Sans', Arial, Helvetica, sans-serif">3</text>
<text x="1207.2" y="1393.7" font-size="38.5" font-weight="normal" text-anchor="end" fill="#000" font-family="'Liberation Sans', Arial, Helvetica, sans-serif">0</text>
<text x="1207.2" y="1290.8" font-size="38.5" font-weight="normal" text-anchor="end" fill="#000" font-family="'Liberation Sans', Arial, Helvetica, sans-serif">5</text>
<text x="1207.2" y="1187.9" font-size="38.5" font-weight="normal" text-anchor="end" fill="#000" font-family="'Liberation Sans', Arial, Helvetica, sans-serif">10</text>
<text x="1207.2" y="1085.1" font-size="38.5" font-weight="normal" text-anchor="end" fill="#000" font-family="'Liberation Sans', Arial, Helvetica, sans-serif">15</text>
<text x="1207.2" y="982.2" font-size="38.5" font-weight="normal" text-anchor="end" fill="#000" font-family="'Liberation Sans', Arial, Helvetica, sans-serif">20</text>
<text x="1207.2" y="879.3" font-size="38.5" font-weight="normal" text-anchor="end" fill="#000" font-family="'Liberation Sans', Arial, Helvetica, sans-serif">25</text>
<text x="1875" y="1308" font-size="38.5" font-weight="normal" text-anchor="start" fill="#000" font-family="'Liberation Sans', Arial, Helvetica, sans-serif">85</text>
<text x="1875" y="1165.1" font-size="38.5" font-weight="normal" text-anchor="start" fill="#000" font-family="'Liberation Sans', Arial, Helvetica, sans-serif">90</text>
<text x="1875" y="1022.2" font-size="38.5" font-weight="normal" text-anchor="start" fill="#000" font-family="'Liberation Sans', Arial, Helvetica, sans-serif">95</text>
<text x="1875" y="879.3" font-size="38.5" font-weight="normal" text-anchor="start" fill="#000" font-family="'Liberation Sans', Arial, Helvetica, sans-serif">100</text>
<text x="1541.3" y="1476.3" font-size="42.5" font-weight="normal" text-anchor="middle" fill="#000" font-family="'Liberation Sans', Arial, Helvetica, sans-serif">Voltage (V)</text>
<text x="1149" y="1121" font-size="42.5" font-weight="normal" text-anchor="middle" fill="#000" font-family="'Liberation Sans', Arial, Helvetica, sans-serif" transform="rotate(-90 1149 1121)">Reflectance (%)</text>
<text x="1987" y="1120.4" font-size="42.5" font-weight="normal" text-anchor="middle" fill="#000" font-family="'Liberation Sans', Arial, Helvetica, sans-serif" transform="rotate(-90 1987 1120.4)">Absorbance (%)</text>
<rect x="642.7" y="385.6" width="111.6" height="91.1" fill="none" stroke="#FFC800" stroke-width="5.3" stroke-dasharray="5 5"/>
<path d="M754.3,385.6L1098.5,57.5M754.3,476.7L1098.5,728" stroke="#FFC800" stroke-width="2.5" stroke-dasharray="6.5 3.6" fill="none"/>
<text x="-1" y="31" font-size="43" font-weight="bold" text-anchor="start" fill="#000" font-family="'Liberation Sans', Arial, Helvetica, sans-serif">(a)</text>
<text x="1026" y="31" font-size="43" font-weight="bold" text-anchor="start" fill="#000" font-family="'Liberation Sans', Arial, Helvetica, sans-serif">(b)</text>
<text x="-1" y="862" font-size="43" font-weight="bold" text-anchor="start" fill="#000" font-family="'Liberation Sans', Arial, Helvetica, sans-serif">(c)</text>
<text x="1026" y="862" font-size="43" font-weight="bold" text-anchor="start" fill="#000" font-family="'Liberation Sans', Arial, Helvetica, sans-serif">(d)</text>
</svg>
</body></html>
